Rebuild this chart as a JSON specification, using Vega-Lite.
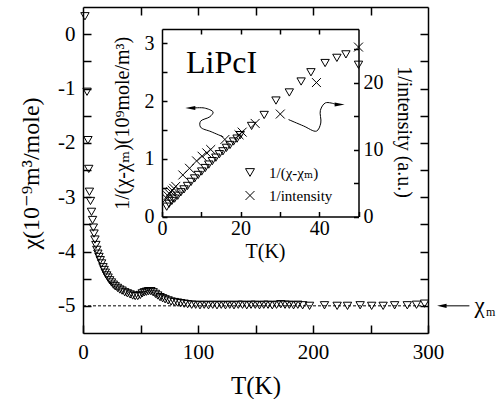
{
  "$schema": "https://vega.github.io/schema/vega-lite/v6.json",
  "width": 345,
  "height": 326,
  "autosize": "none",
  "padding": {"left": 83, "top": 7, "right": 70, "bottom": 66},
  "background": "white",
  "datasets": {
    "main": [
      {"T": 1.7, "chi": 0.33}, {"T": 3.5, "chi": -1.06}, {"T": 4.3, "chi": -1.95}, {"T": 5.0, "chi": -2.48},
      {"T": 5.6, "chi": -2.9}, {"T": 6.5, "chi": -3.07}, {"T": 7.4, "chi": -3.27}, {"T": 8.3, "chi": -3.42},
      {"T": 9.0, "chi": -3.56}, {"T": 9.6, "chi": -3.67}, {"T": 10.4, "chi": -3.78}, {"T": 11.2, "chi": -3.88},
      {"T": 12.0, "chi": -3.97}, {"T": 12.9, "chi": -4.04}, {"T": 13.9, "chi": -4.1}, {"T": 15.0, "chi": -4.16},
      {"T": 16.2, "chi": -4.22}, {"T": 17.4, "chi": -4.29}, {"T": 18.4, "chi": -4.34}, {"T": 19.4, "chi": -4.39},
      {"T": 20.6, "chi": -4.44}, {"T": 21.8, "chi": -4.48}, {"T": 23.2, "chi": -4.53}, {"T": 24.8, "chi": -4.57},
      {"T": 26.4, "chi": -4.61}, {"T": 28.0, "chi": -4.64}, {"T": 30.0, "chi": -4.67}, {"T": 32.0, "chi": -4.7},
      {"T": 34.0, "chi": -4.72}, {"T": 36.3, "chi": -4.75}, {"T": 38.6, "chi": -4.77}, {"T": 41.0, "chi": -4.79},
      {"T": 43.2, "chi": -4.81}, {"T": 45.4, "chi": -4.82}, {"T": 47.6, "chi": -4.82}, {"T": 49.8, "chi": -4.8},
      {"T": 51.6, "chi": -4.77}, {"T": 53.4, "chi": -4.75}, {"T": 55.2, "chi": -4.74}, {"T": 57.0, "chi": -4.73},
      {"T": 59.0, "chi": -4.73}, {"T": 61.0, "chi": -4.75}, {"T": 63.0, "chi": -4.78}, {"T": 65.0, "chi": -4.81},
      {"T": 67.0, "chi": -4.84}, {"T": 69.2, "chi": -4.86}, {"T": 71.4, "chi": -4.88}, {"T": 74.0, "chi": -4.9},
      {"T": 76.6, "chi": -4.92}, {"T": 79.4, "chi": -4.93}, {"T": 82.2, "chi": -4.94}, {"T": 85.0, "chi": -4.95},
      {"T": 88.0, "chi": -4.96}, {"T": 91.0, "chi": -4.97}, {"T": 94.5, "chi": -4.98}, {"T": 98.0, "chi": -4.98},
      {"T": 101.7, "chi": -4.99}, {"T": 105.4, "chi": -4.98}, {"T": 109.1, "chi": -4.99}, {"T": 112.8, "chi": -4.98},
      {"T": 116.5, "chi": -4.99}, {"T": 120.2, "chi": -4.98}, {"T": 123.9, "chi": -4.99}, {"T": 127.6, "chi": -4.98},
      {"T": 131.3, "chi": -4.99}, {"T": 135.0, "chi": -4.98}, {"T": 138.7, "chi": -4.98}, {"T": 142.4, "chi": -4.99},
      {"T": 146.1, "chi": -4.98}, {"T": 149.8, "chi": -4.98}, {"T": 153.5, "chi": -4.99}, {"T": 157.2, "chi": -4.98},
      {"T": 160.9, "chi": -4.98}, {"T": 164.6, "chi": -4.99}, {"T": 168.3, "chi": -4.98}, {"T": 172.0, "chi": -4.97},
      {"T": 175.7, "chi": -4.98}, {"T": 179.4, "chi": -4.98}, {"T": 183.1, "chi": -4.99}, {"T": 186.8, "chi": -4.98},
      {"T": 191.0, "chi": -4.99}, {"T": 197.0, "chi": -5.0}, {"T": 210.0, "chi": -4.99}, {"T": 221.0, "chi": -5.0},
      {"T": 230.0, "chi": -5.0}, {"T": 241.0, "chi": -4.99}, {"T": 251.0, "chi": -5.0}, {"T": 261.0, "chi": -5.0},
      {"T": 271.0, "chi": -4.99}, {"T": 282.0, "chi": -4.99}, {"T": 290.0, "chi": -4.98}, {"T": 297.0, "chi": -4.96}
    ],
    "inv": [
      {"T": 1.2, "v": 0.17}, {"T": 1.8, "v": 0.22}, {"T": 2.5, "v": 0.27}, {"T": 3.2, "v": 0.31},
      {"T": 4.0, "v": 0.36}, {"T": 4.8, "v": 0.42}, {"T": 5.6, "v": 0.47}, {"T": 6.5, "v": 0.53},
      {"T": 7.4, "v": 0.6}, {"T": 8.3, "v": 0.66}, {"T": 9.2, "v": 0.72}, {"T": 10.1, "v": 0.78},
      {"T": 11.0, "v": 0.84}, {"T": 11.9, "v": 0.9}, {"T": 12.8, "v": 0.96}, {"T": 13.7, "v": 1.02},
      {"T": 14.6, "v": 1.08}, {"T": 15.5, "v": 1.13}, {"T": 16.4, "v": 1.19}, {"T": 17.3, "v": 1.24},
      {"T": 18.2, "v": 1.3}, {"T": 19.1, "v": 1.35}, {"T": 19.9, "v": 1.41}, {"T": 22.8, "v": 1.57},
      {"T": 26.0, "v": 1.76}, {"T": 29.0, "v": 2.01}, {"T": 32.4, "v": 2.15}, {"T": 35.4, "v": 2.34},
      {"T": 37.9, "v": 2.5}, {"T": 41.5, "v": 2.66}, {"T": 44.5, "v": 2.75}, {"T": 46.8, "v": 2.81},
      {"T": 50.0, "v": 2.63}
    ],
    "inten": [
      {"T": 1.2, "v": 2.7}, {"T": 1.5, "v": 3.1}, {"T": 1.9, "v": 3.4}, {"T": 2.2, "v": 3.7},
      {"T": 2.6, "v": 3.9}, {"T": 3.0, "v": 4.2}, {"T": 3.5, "v": 4.5}, {"T": 5.3, "v": 6.2},
      {"T": 7.0, "v": 7.2}, {"T": 8.8, "v": 8.3}, {"T": 10.2, "v": 9.0}, {"T": 11.4, "v": 9.5},
      {"T": 12.4, "v": 10.0}, {"T": 16.0, "v": 11.5}, {"T": 19.6, "v": 12.2}, {"T": 20.4, "v": 12.6},
      {"T": 23.7, "v": 13.9}, {"T": 30.1, "v": 15.3}, {"T": 39.3, "v": 20.0}, {"T": 50.0, "v": 25.3}
    ],
    "arrows": [
      {"id": "a", "i": 0, "T": 15.6, "v": 1.38}, {"id": "a", "i": 1, "T": 12.5, "v": 1.47},
      {"id": "a", "i": 2, "T": 9.8, "v": 1.55}, {"id": "a", "i": 3, "T": 9.8, "v": 1.65},
      {"id": "a", "i": 4, "T": 12.2, "v": 1.73}, {"id": "a", "i": 5, "T": 13.0, "v": 1.81},
      {"id": "a", "i": 6, "T": 10.8, "v": 1.88}, {"id": "a", "i": 7, "T": 8.0, "v": 1.88},
      {"id": "b", "i": 0, "T": 32.2, "v": 1.68}, {"id": "b", "i": 1, "T": 36.0, "v": 1.57},
      {"id": "b", "i": 2, "T": 39.3, "v": 1.48}, {"id": "b", "i": 3, "T": 40.4, "v": 1.62},
      {"id": "b", "i": 4, "T": 40.3, "v": 1.84}, {"id": "b", "i": 5, "T": 41.6, "v": 1.97},
      {"id": "b", "i": 6, "T": 44.0, "v": 1.95}
    ],
    "dash": [{"T": 0, "chi": -5}, {"T": 300, "chi": -5}]
  },
  "layer": [
    {
      "data": {"name": "main"},
      "mark": {"type": "point", "shape": "triangle-down", "filled": false, "color": "black", "size": 70, "strokeWidth": 1, "opacity": 1},
      "encoding": {
        "x": {"field": "T", "type": "quantitative", "scale": {"domain": [0, 300], "range": [0, 345], "nice": false, "zero": false},
          "axis": {"orient": "bottom", "offset": 0, "zindex": 2, "values": [0, 50, 100, 150, 200, 250, 300], "labelExpr": "datum.value % 100 == 0 ? '' + datum.value : ''",
            "tickSize": -8, "labelPadding": 16.5, "labelFontSize": 21, "title": "T(K)", "titleFontSize": 25, "titleX": 172.5, "titleY": 60, "titleBaseline": "alphabetic", "titleAlign": "center"}},
        "y": {"field": "chi", "type": "quantitative", "scale": {"domain": [-5.5, 0.5], "range": [326, 0], "nice": false, "zero": false},
          "axis": {"orient": "left", "offset": 0, "zindex": 2, "values": [-5, -4.5, -4, -3.5, -3, -2.5, -2, -1.5, -1, -0.5, 0], "labelExpr": "datum.value % 1 == 0 ? '' + datum.value : ''",
            "tickSize": -8, "labelPadding": 16, "labelFontSize": 21, "title": "χ(10⁻⁹m³/mole)", "titleFontSize": 24, "titleX": -52, "titleY": 166, "titleAngle": 270, "titleBaseline": "middle", "titleAlign": "center"}}
      }
    },
    {
      "data": {"name": "dash"},
      "mark": {"type": "line", "color": "black", "strokeWidth": 1, "strokeDash": [3, 2]},
      "encoding": {
        "x": {"field": "T", "type": "quantitative", "scale": {"domain": [0, 300], "range": [0, 345], "nice": false, "zero": false},
          "axis": {"orient": "top", "offset": 0, "zindex": 2, "values": [50, 100, 150, 200, 250], "labels": false, "tickSize": -8, "title": null}},
        "y": {"field": "chi", "type": "quantitative", "scale": {"domain": [-5.5, 0.5], "range": [326, 0], "nice": false, "zero": false},
          "axis": {"orient": "right", "offset": 0, "zindex": 2, "values": [-5, -4.5, -4, -3.5, -3, -2.5, -2, -1.5, -1, -0.5, 0], "labels": false, "tickSize": -8, "title": null}}
      }
    },
    {
      "data": {"values": [{}]},
      "mark": {"type": "rule", "color": "black", "strokeWidth": 1, "clip": false},
      "encoding": {
        "x": {"datum": 312, "type": "quantitative", "scale": {"domain": [0, 300], "range": [0, 345], "nice": false, "zero": false}, "axis": null},
        "x2": {"datum": 336},
        "y": {"datum": -5, "type": "quantitative", "scale": {"domain": [-5.5, 0.5], "range": [326, 0], "nice": false, "zero": false}, "axis": null}
      }
    },
    {
      "data": {"values": [{}]},
      "mark": {"type": "point", "shape": "M-1,0L1,-0.45L1,0.45Z", "filled": true, "color": "black", "size": 90, "opacity": 1, "clip": false},
      "encoding": {
        "x": {"datum": 312, "type": "quantitative", "scale": {"domain": [0, 300], "range": [0, 345], "nice": false, "zero": false}, "axis": null},
        "y": {"datum": -5, "type": "quantitative", "scale": {"domain": [-5.5, 0.5], "range": [326, 0], "nice": false, "zero": false}, "axis": null}
      }
    },
    {
      "data": {"values": [{}]},
      "mark": {"type": "text", "text": "χ", "font": "Liberation Serif, DejaVu Serif, serif", "fontSize": 23, "align": "left", "baseline": "middle", "color": "black", "clip": false},
      "encoding": {
        "x": {"datum": 340.5, "type": "quantitative", "scale": {"domain": [0, 300], "range": [0, 345], "nice": false, "zero": false}, "axis": null},
        "y": {"datum": -5, "type": "quantitative", "scale": {"domain": [-5.5, 0.5], "range": [326, 0], "nice": false, "zero": false}, "axis": null}
      }
    },
    {
      "data": {"values": [{}]},
      "mark": {"type": "text", "text": "m", "font": "Liberation Serif, DejaVu Serif, serif", "fontSize": 12, "align": "left", "baseline": "middle", "dy": 6, "color": "black", "clip": false},
      "encoding": {
        "x": {"datum": 350.5, "type": "quantitative", "scale": {"domain": [0, 300], "range": [0, 345], "nice": false, "zero": false}, "axis": null},
        "y": {"datum": -5, "type": "quantitative", "scale": {"domain": [-5.5, 0.5], "range": [326, 0], "nice": false, "zero": false}, "axis": null}
      }
    },
    {
      "data": {"name": "inv"},
      "mark": {"type": "point", "filled": false, "color": "black", "size": 70, "strokeWidth": 1, "opacity": 1},
      "encoding": {
        "x": {"field": "T", "type": "quantitative", "scale": {"domain": [0, 50], "range": [79, 275.5], "nice": false, "zero": false},
          "axis": {"orient": "bottom", "offset": -116.5, "zindex": 2, "values": [0, 10, 20, 30, 40, 50], "labelExpr": "datum.value % 20 == 0 ? '' + datum.value : ''",
            "tickSize": -5, "labelPadding": 6.5, "labelFontSize": 20, "title": "T(K)", "titleFontSize": 20, "titleX": 182, "titleY": 40.5, "titleBaseline": "alphabetic", "titleAlign": "center"}},
        "y": {"field": "v", "type": "quantitative", "scale": {"domain": [0, 3.25], "range": [209.5, 22], "nice": false, "zero": false},
          "axis": {"orient": "left", "offset": -79, "zindex": 2, "values": [0, 0.5, 1, 1.5, 2, 2.5, 3], "labelExpr": "datum.value % 1 == 0 ? '' + datum.value : ''",
            "tickSize": -5, "labelPadding": 13, "labelFontSize": 20, "title": "1/(χ-χₘ)(10⁹mole/m³)", "titleFontSize": 20, "titleX": -40, "titleY": 115.75, "titleAngle": 270, "titleBaseline": "middle", "titleAlign": "center"}},
        "shape": {"datum": "1/(χ-χₘ)", "type": "nominal",
          "scale": {"domain": ["1/(χ-χₘ)", "1/intensity"], "range": ["triangle-down", "M-1,-1L1,1M-1,1L1,-1"]},
          "legend": {"title": null, "orient": "none", "legendX": 159.5, "legendY": 158, "labelFont": "Liberation Serif, DejaVu Serif, serif", "labelFontSize": 15, "labelColor": "black",
            "symbolSize": 80, "symbolStrokeColor": "black", "symbolStrokeWidth": 1, "symbolFillColor": "transparent", "labelOffset": 11.5, "rowPadding": 7, "padding": 0}}
      }
    },
    {
      "data": {"name": "arrows"},
      "mark": {"type": "line", "color": "black", "strokeWidth": 1, "interpolate": "catmull-rom"},
      "encoding": {
        "x": {"field": "T", "type": "quantitative", "scale": {"domain": [0, 50], "range": [79, 275.5], "nice": false, "zero": false}, "axis": null},
        "y": {"field": "v", "type": "quantitative", "scale": {"domain": [0, 3.25], "range": [209.5, 22], "nice": false, "zero": false}, "axis": null},
        "detail": {"field": "id"},
        "order": {"field": "i", "type": "quantitative"}
      }
    },
    {
      "data": {"values": [{}]},
      "mark": {"type": "point", "shape": "M-1,0L1,-0.4L1,0.4Z", "filled": true, "color": "black", "size": 100, "opacity": 1},
      "encoding": {
        "x": {"datum": 7.2, "type": "quantitative", "scale": {"domain": [0, 50], "range": [79, 275.5], "nice": false, "zero": false}, "axis": null},
        "y": {"datum": 1.88, "type": "quantitative", "scale": {"domain": [0, 3.25], "range": [209.5, 22], "nice": false, "zero": false}, "axis": null}
      }
    },
    {
      "data": {"values": [{}]},
      "mark": {"type": "point", "shape": "M1,0L-1,-0.4L-1,0.4Z", "filled": true, "color": "black", "size": 100, "opacity": 1},
      "encoding": {
        "x": {"datum": 45.2, "type": "quantitative", "scale": {"domain": [0, 50], "range": [79, 275.5], "nice": false, "zero": false}, "axis": null},
        "y": {"datum": 1.94, "type": "quantitative", "scale": {"domain": [0, 3.25], "range": [209.5, 22], "nice": false, "zero": false}, "axis": null}
      }
    },
    {
      "data": {"values": [{}]},
      "mark": {"type": "text", "text": "LiPcI", "font": "Liberation Serif, DejaVu Serif, serif", "fontSize": 32, "align": "left", "baseline": "alphabetic", "color": "black"},
      "encoding": {
        "x": {"datum": 6.1, "type": "quantitative", "scale": {"domain": [0, 50], "range": [79, 275.5], "nice": false, "zero": false}, "axis": null},
        "y": {"datum": 2.49, "type": "quantitative", "scale": {"domain": [0, 3.25], "range": [209.5, 22], "nice": false, "zero": false}, "axis": null}
      }
    },
    {
      "data": {"name": "inten"},
      "mark": {"type": "point", "filled": false, "color": "black", "size": 80, "strokeWidth": 1, "opacity": 1},
      "encoding": {
        "x": {"field": "T", "type": "quantitative", "scale": {"domain": [0, 50], "range": [79, 275.5], "nice": false, "zero": false},
          "axis": {"orient": "top", "offset": -22, "zindex": 2, "values": [10, 20, 30, 40], "labels": false, "tickSize": -5, "title": null}},
        "y": {"field": "v", "type": "quantitative", "scale": {"domain": [0, 28], "range": [209.5, 22], "nice": false, "zero": false},
          "axis": {"orient": "right", "offset": -69.5, "zindex": 2, "values": [0, 5, 10, 15, 20, 25], "labelExpr": "datum.value % 10 == 0 ? '' + datum.value : ''",
            "tickSize": -5, "labelPadding": 9.5, "labelFontSize": 20, "title": "1/intensity (a.u.)", "titleFontSize": 20, "titleX": 44.5, "titleY": 124.5, "titleAngle": 90, "titleBaseline": "middle", "titleAlign": "center"}},
        "shape": {"datum": "1/intensity", "type": "nominal"}
      }
    }
  ],
  "resolve": {"scale": {"x": "independent", "y": "independent"}, "axis": {"x": "independent", "y": "independent"}},
  "config": {
    "view": {"stroke": null},
    "font": "Liberation Serif, DejaVu Serif, serif",
    "legend": {"labelFont": "Liberation Serif, DejaVu Serif, serif"},
    "axis": {"grid": false, "labelFont": "Liberation Serif, DejaVu Serif, serif", "titleFont": "Liberation Serif, DejaVu Serif, serif", "titleFontWeight": "normal",
      "labelColor": "black", "titleColor": "black", "domainColor": "black", "tickColor": "black",
      "domainWidth": 1.5, "tickWidth": 1.5, "labelOverlap": false, "labelFlush": false, "labelBound": false}
  }
}
